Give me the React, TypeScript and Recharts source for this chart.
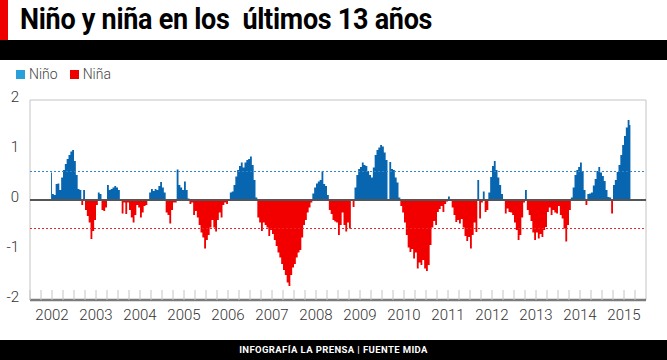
import React from 'react';
import { ComposedChart, Area, XAxis, YAxis, ReferenceLine, ReferenceArea } from 'recharts';

// Índice semanal aproximado, leído cada medio mes (24 valores por año)
const YEARS = [2002, 2003, 2004, 2005, 2006, 2007, 2008, 2009, 2010, 2011, 2012, 2013, 2014, 2015];
const SLOTS_PER_YEAR = 24;

const V2002 = [null, null, null, null, null, null, null, null, null, null, null,
    0.55, 0.12, 0.1, 0.32, 0.33, 0.2, 0.45, 0.6, 0.72, 0.82, 0.9, 0.97, 1.0];
const V2003 = [0.78, 0.5, 0.22, 0.2, -0.1, 0.2, -0.2, -0.32, -0.45, -0.78, -0.62, -0.4,
    -0.1, 0.15, 0.12, -0.2, -0.22, -0.15, 0.3, 0.2, 0.22, 0.25, 0.28, 0.25];
const V2004 = [0.2, 0.02, -0.27, -0.05, -0.28, -0.05, -0.2, -0.35, -0.45, -0.3, -0.1, -0.15,
    -0.35, -0.25, -0.12, -0.1, 0.02, 0.15, 0.22, 0.18, 0.22, 0.2, 0.28, 0.36];
const V2005 = [0.25, 0.15, -0.25, -0.3, -0.47, -0.2, -0.05, -0.05, 0.61, 0.3, 0.25, 0.2,
    0.37, 0.2, 0.03, -0.08, -0.05, -0.3, -0.22, -0.35, -0.5, -0.65, -0.75, -0.97];
const V2006 = [-0.8, -0.7, -0.55, -0.4, -0.55, -0.63, -0.4, -0.25, -0.35, -0.1, -0.05, -0.08,
    -0.02, 0.15, 0.17, 0.3, 0.47, 0.6, 0.68, 0.75, 0.65, 0.75, 0.8, 0.82];
const V2007 = [0.87, 0.7, 0.4, 0.05, -0.35, -0.45, -0.62, -0.45, -0.5, -0.55, -0.72, -0.6,
    -0.68, -0.8, -0.92, -1.05, -1.15, -1.28, -1.4, -1.5, -1.65, -1.72, -1.5, -1.35];
const V2008 = [-1.28, -1.15, -1.05, -1.0, -0.75, -0.5, -0.4, -0.25, -0.15, -0.05, 0.13, 0.25,
    0.33, 0.37, 0.4, 0.57, 0.32, 0.28, 0.1, -0.2, -0.28, -0.4, -0.43, -0.45];
const V2009 = [-0.7, -0.5, -0.25, -0.5, -0.63, -0.45, -0.57, -0.02, -0.14, 0.25, 0.5, 0.62,
    0.66, 0.75, 0.7, 0.68, 0.58, 0.5, 0.45, 0.65, 0.9, 1.0, 1.05, 1.1];
const V2010 = [1.07, 0.95, 0.8, 0.02, 0.76, 0.62, 0.6, 0.45, 0.35, 0.05, -0.12, -0.25,
    -0.45, -0.7, -0.95, -1.04, -0.98, -1.17, -1.05, -1.37, -1.25, -1.3, -1.2, -1.37];
const V2011 = [-1.42, -1.3, -0.9, -0.55, -0.42, -0.5, -0.24, -0.18, -0.12, -0.24, -0.08, -0.03,
    0.07, 0.02, -0.15, -0.3, -0.44, -0.4, -0.47, -0.38, -0.55, -0.72, -0.82, -0.74];
const V2012 = [-0.97, -0.7, -0.45, -0.64, 0.4, -0.37, -0.05, 0.17, -0.24, -0.2, 0.15, 0.46,
    0.68, 0.78, 0.6, 0.45, 0.3, 0.12, 0.02, -0.27, -0.17, -0.24, -0.25, -0.3];
const V2013 = [-0.45, -0.6, -0.8, -0.7, -0.35, -0.05, 0.2, -0.2, -0.3, -0.42, -0.65, -0.8,
    -0.65, -0.77, -0.68, -0.74, -0.6, -0.54, -0.24, -0.15, -0.3, -0.2, -0.25, -0.27];
const V2014 = [-0.12, -0.3, -0.37, -0.57, -0.83, -0.5, -0.2, 0.05, 0.25, 0.5, 0.6, 0.66,
    0.75, 0.56, 0.2, -0.1, 0.12, 0.13, 0.15, 0.29, 0.42, 0.58, 0.66, 0.55];
const V2015 = [0.48, 0.38, 0.2, 0.06, 0.05, -0.27, 0.3, 0.4, 0.56, 0.7, 0.9, 1.1,
    1.28, 1.45, 1.6, 1.5];

const SERIES = [V2002, V2003, V2004, V2005, V2006, V2007, V2008, V2009, V2010, V2011, V2012, V2013, V2014, V2015];

const Y_TICKS = [-2, -1, 0, 1, 2];
const NINO_THRESHOLD = 0.57;
const NINA_THRESHOLD = -0.57;

const NINO_COLOR = '#0866b0';
const NINA_COLOR = '#f20000';
const FONT = "'Roboto', 'Liberation Sans', sans-serif";

// positivo -> Niño, negativo -> Niña
const data = YEARS.flatMap((year, k) =>
    Array.from({ length: SLOTS_PER_YEAR }, (_, j) => {
        const v = SERIES[k][j] ?? null;
        return {
            slot: `${year}-${j}`,
            nino: v === null ? null : Math.max(v, 0),
            nina: v === null ? null : Math.min(v, 0),
        };
    }),
);

const PLOT_W = 616;
const BAND = PLOT_W / data.length;

const quarterTicks = data.filter((_, i) => i % 6 === 0).map(d => d.slot);

// eslint-disable-next-line @typescript-eslint/no-explicit-any
function QuarterTick({ x, y, payload }: any) {
    const [year, slot] = String(payload.value).split('-').map(Number);
    const x0 = x - BAND / 2;
    return (
        <g>
            <line x1={x0} x2={x0} y1={y} y2={y - 10} stroke="#c4c4c4" strokeWidth={1} />
            {slot === 0 && (
                <text x={x0 + 22} y={y + 20} textAnchor="middle" fill="#333" fontSize={15} fontFamily={FONT} fontWeight={300}>
                    {year}
                </text>
            )}
        </g>
    );
}

// eslint-disable-next-line @typescript-eslint/no-explicit-any
function ValueTick({ x, y, payload }: any) {
    return (
        <text x={x} y={y + 2} textAnchor="end" fill="#333" fontSize={15} fontFamily={FONT} fontWeight={300}>
            {payload.value}
        </text>
    );
}

export default function App() {
    return (
        <div style={{ position: 'absolute', left: 0, top: 0, width: 667, height: 360, background: '#fff', overflow: 'hidden' }}>
            <ComposedChart
                width={667}
                height={360}
                data={data}
                margin={{ top: 100, right: 21, bottom: 30, left: 0 }}
            >
                <ReferenceArea y1={-2} y2={2} fill="none" stroke="#c4c4c4" strokeWidth={1} />
                <XAxis
                    dataKey="slot"
                    scale="band"
                    ticks={quarterTicks}
                    interval={0}
                    height={30}
                    tickSize={0}
                    tickMargin={0}
                    tick={<QuarterTick />}
                    axisLine={{ stroke: '#7c7c7c', strokeWidth: 2.5 }}
                    tickLine={false}
                />
                <YAxis
                    domain={[-2, 2]}
                    ticks={Y_TICKS}
                    width={30}
                    axisLine={false}
                    tickLine={false}
                    tickMargin={5}
                    tick={<ValueTick />}
                />
                <ReferenceLine y={NINO_THRESHOLD} stroke="#2f86cc" strokeDasharray="2 2" strokeWidth={1} />
                <ReferenceLine y={NINA_THRESHOLD} stroke="#e8262b" strokeDasharray="2 2" strokeWidth={1} />
                <Area
                    dataKey="nino"
                    type="step"
                    baseValue={0}
                    fill={NINO_COLOR}
                    fillOpacity={1}
                    stroke="none"
                    isAnimationActive={false}
                />
                <Area
                    dataKey="nina"
                    type="step"
                    baseValue={0}
                    fill={NINA_COLOR}
                    fillOpacity={1}
                    stroke="none"
                    isAnimationActive={false}
                />
                <ReferenceLine y={0} stroke="#555" strokeWidth={2} />
            </ComposedChart>

            {/* cabecera */}
            <div style={{ position: 'absolute', left: 0, top: 0, width: 8, height: 40, background: '#ee0000' }} />
            <div
                style={{
                    position: 'absolute', left: 20, top: 2, fontFamily: FONT, fontWeight: 700,
                    fontSize: 29, lineHeight: '34px', color: '#000', whiteSpace: 'pre',
                    transform: 'scaleX(0.93)', transformOrigin: 'left center', letterSpacing: -0.3,
                }}
            >
                {'Niño y niña en los  últimos 13 años'}
            </div>
            <div style={{ position: 'absolute', left: 0, top: 40, width: 667, height: 20, background: '#000' }} />

            {/* leyenda */}
            <div
                style={{
                    position: 'absolute', left: 16, top: 66, display: 'flex', alignItems: 'center',
                    fontFamily: FONT, fontSize: 14, color: '#444', fontWeight: 300,
                }}
            >
                <span style={{ width: 9, height: 9, background: '#2aa0da', marginRight: 4 }} />
                <span style={{ marginRight: 12 }}>Niño</span>
                <span style={{ width: 9, height: 9, background: '#ee0000', marginRight: 4 }} />
                <span>Niña</span>
            </div>

            {/* pie */}
            <div
                style={{
                    position: 'absolute', left: 0, top: 340, width: 667, height: 20, background: '#000',
                    color: '#fff', fontFamily: FONT, fontWeight: 700, fontSize: 9.5, letterSpacing: 0.4,
                    lineHeight: '20px', textAlign: 'center',
                }}
            >
                INFOGRAFÍA LA PRENSA | FUENTE MIDA
            </div>
        </div>
    );
}
